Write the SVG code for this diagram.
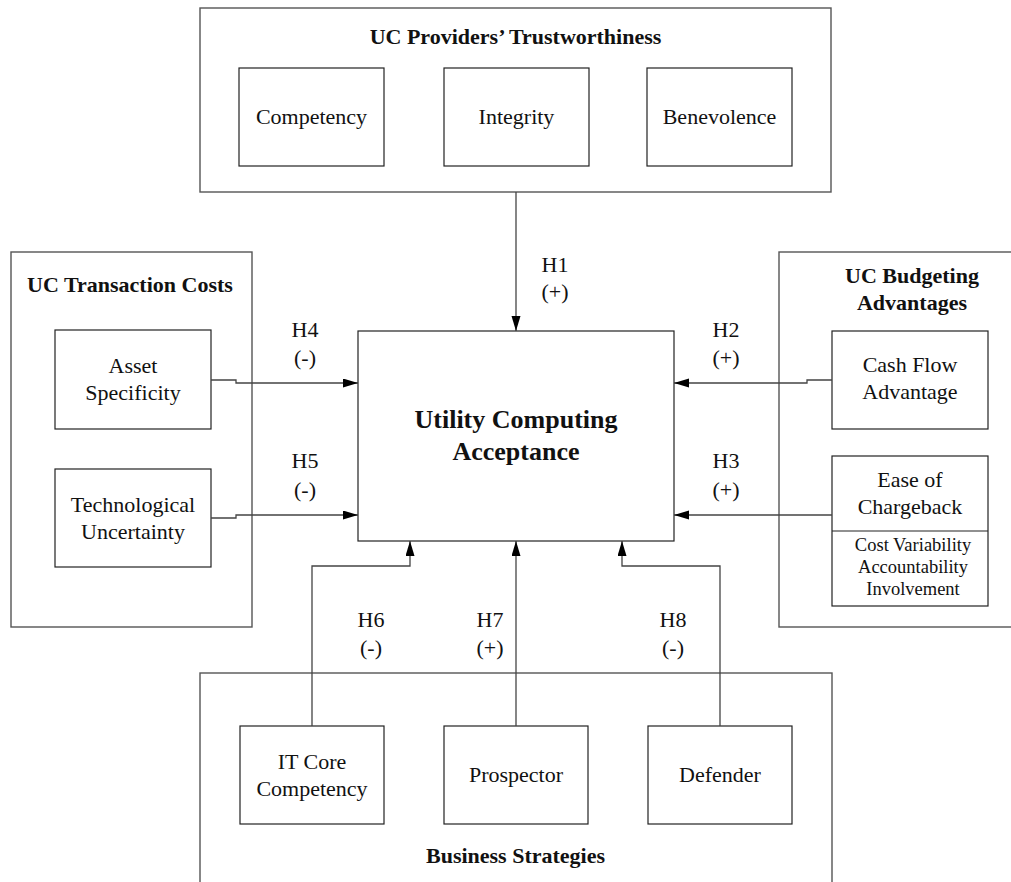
<svg xmlns="http://www.w3.org/2000/svg" width="1011" height="882" viewBox="0 0 1011 882">
<style>
  text { font-family: "Liberation Serif", "Times New Roman", serif; fill: #111; text-anchor: middle; }
  .t { font-size: 22px; }
  .s { font-size: 18.5px; }
  .b { font-size: 22px; font-weight: bold; }
  .big { font-size: 26px; font-weight: bold; }
  .outer { fill: none; stroke: #555; stroke-width: 1.4; }
  .inner { fill: #fff; stroke: #222; stroke-width: 1.2; }
  .conn { fill: none; stroke: #444; stroke-width: 1.3; }
</style>
<defs>
  <marker id="arr" markerUnits="userSpaceOnUse" markerWidth="16" markerHeight="10" refX="15" refY="4.5" orient="auto">
    <path d="M0,0 L15,4.5 L0,9 z" fill="#000"/>
  </marker>
</defs>
<rect width="1011" height="882" fill="#fff"/>

<g id="trust">
  <rect class="outer" x="200" y="8" width="631" height="184"/>
  <text class="b" x="515.5" y="44">UC Providers’ Trustworthiness</text>
</g>
<g id="competency">
  <rect class="inner" x="239" y="68" width="145" height="98"/>
  <text class="t" x="311.5" y="124">Competency</text>
</g>
<g id="integrity">
  <rect class="inner" x="444" y="68" width="145" height="98"/>
  <text class="t" x="516.5" y="124">Integrity</text>
</g>
<g id="benevolence">
  <rect class="inner" x="647" y="68" width="145" height="98"/>
  <text class="t" x="719.5" y="124">Benevolence</text>
</g>

<g id="transaction">
  <rect class="outer" x="11" y="252" width="241" height="375"/>
  <text class="b" x="130" y="292">UC Transaction Costs</text>
</g>
<g id="asset">
  <rect class="inner" x="55" y="330" width="156" height="99"/>
  <text class="t" x="133" y="373">Asset</text>
  <text class="t" x="133" y="400">Specificity</text>
</g>
<g id="tech">
  <rect class="inner" x="55" y="469" width="156" height="98"/>
  <text class="t" x="133" y="512">Technological</text>
  <text class="t" x="133" y="539">Uncertainty</text>
</g>

<g id="budget">
  <rect class="outer" x="779" y="252" width="240" height="375"/>
  <text class="b" x="912" y="283">UC Budgeting</text>
  <text class="b" x="912" y="310">Advantages</text>
</g>
<g id="cashflow">
  <rect class="inner" x="832" y="331" width="156" height="98"/>
  <text class="t" x="910" y="372">Cash Flow</text>
  <text class="t" x="910" y="399">Advantage</text>
</g>
<g id="chargeback">
  <rect class="inner" x="832" y="456" width="156" height="150"/>
  <line x1="832" y1="531" x2="988" y2="531" stroke="#222" stroke-width="1.2"/>
  <text class="t" x="910" y="487">Ease of</text>
  <text class="t" x="910" y="514">Chargeback</text>
  <text class="s" x="913" y="551">Cost Variability</text>
  <text class="s" x="913" y="573">Accountability</text>
  <text class="s" x="913" y="595">Involvement</text>
</g>

<g id="strategies">
  <rect class="outer" x="200" y="673" width="632" height="230"/>
  <text class="b" x="515.5" y="863">Business Strategies</text>
</g>
<g id="itcore">
  <rect class="inner" x="240" y="726" width="144" height="98"/>
  <text class="t" x="312" y="769">IT Core</text>
  <text class="t" x="312" y="796">Competency</text>
</g>
<g id="prospector">
  <rect class="inner" x="444" y="726" width="144" height="98"/>
  <text class="t" x="516" y="782">Prospector</text>
</g>
<g id="defender">
  <rect class="inner" x="648" y="726" width="144" height="98"/>
  <text class="t" x="720" y="782">Defender</text>
</g>

<g id="center">
  <rect class="inner" x="358" y="331" width="316" height="210"/>
  <text class="big" x="516" y="428">Utility Computing</text>
  <text class="big" x="516" y="460">Acceptance</text>
</g>

<g id="connectors">
  <path class="conn" d="M516,192 V331" marker-end="url(#arr)"/>
  <path class="conn" d="M211,380 H236 V383 H358" marker-end="url(#arr)"/>
  <path class="conn" d="M211,518 H236 V515 H358" marker-end="url(#arr)"/>
  <path class="conn" d="M832,380 H807 V383 H674" marker-end="url(#arr)"/>
  <path class="conn" d="M832,515 H674" marker-end="url(#arr)"/>
  <path class="conn" d="M312,726 V566 H410 V541" marker-end="url(#arr)"/>
  <path class="conn" d="M516,726 V541" marker-end="url(#arr)"/>
  <path class="conn" d="M720,726 V566 H622 V541" marker-end="url(#arr)"/>
</g>

<g id="labels">
  <text class="t" x="555" y="272">H1</text>
  <text class="t" x="555" y="299">(+)</text>
  <text class="t" x="305" y="337">H4</text>
  <text class="t" x="305" y="365">(-)</text>
  <text class="t" x="305" y="468">H5</text>
  <text class="t" x="305" y="497">(-)</text>
  <text class="t" x="726" y="337">H2</text>
  <text class="t" x="726" y="365">(+)</text>
  <text class="t" x="726" y="468">H3</text>
  <text class="t" x="726" y="497">(+)</text>
  <text class="t" x="371" y="627">H6</text>
  <text class="t" x="371" y="655">(-)</text>
  <text class="t" x="490" y="627">H7</text>
  <text class="t" x="490" y="655">(+)</text>
  <text class="t" x="673" y="627">H8</text>
  <text class="t" x="673" y="655">(-)</text>
</g>
</svg>
